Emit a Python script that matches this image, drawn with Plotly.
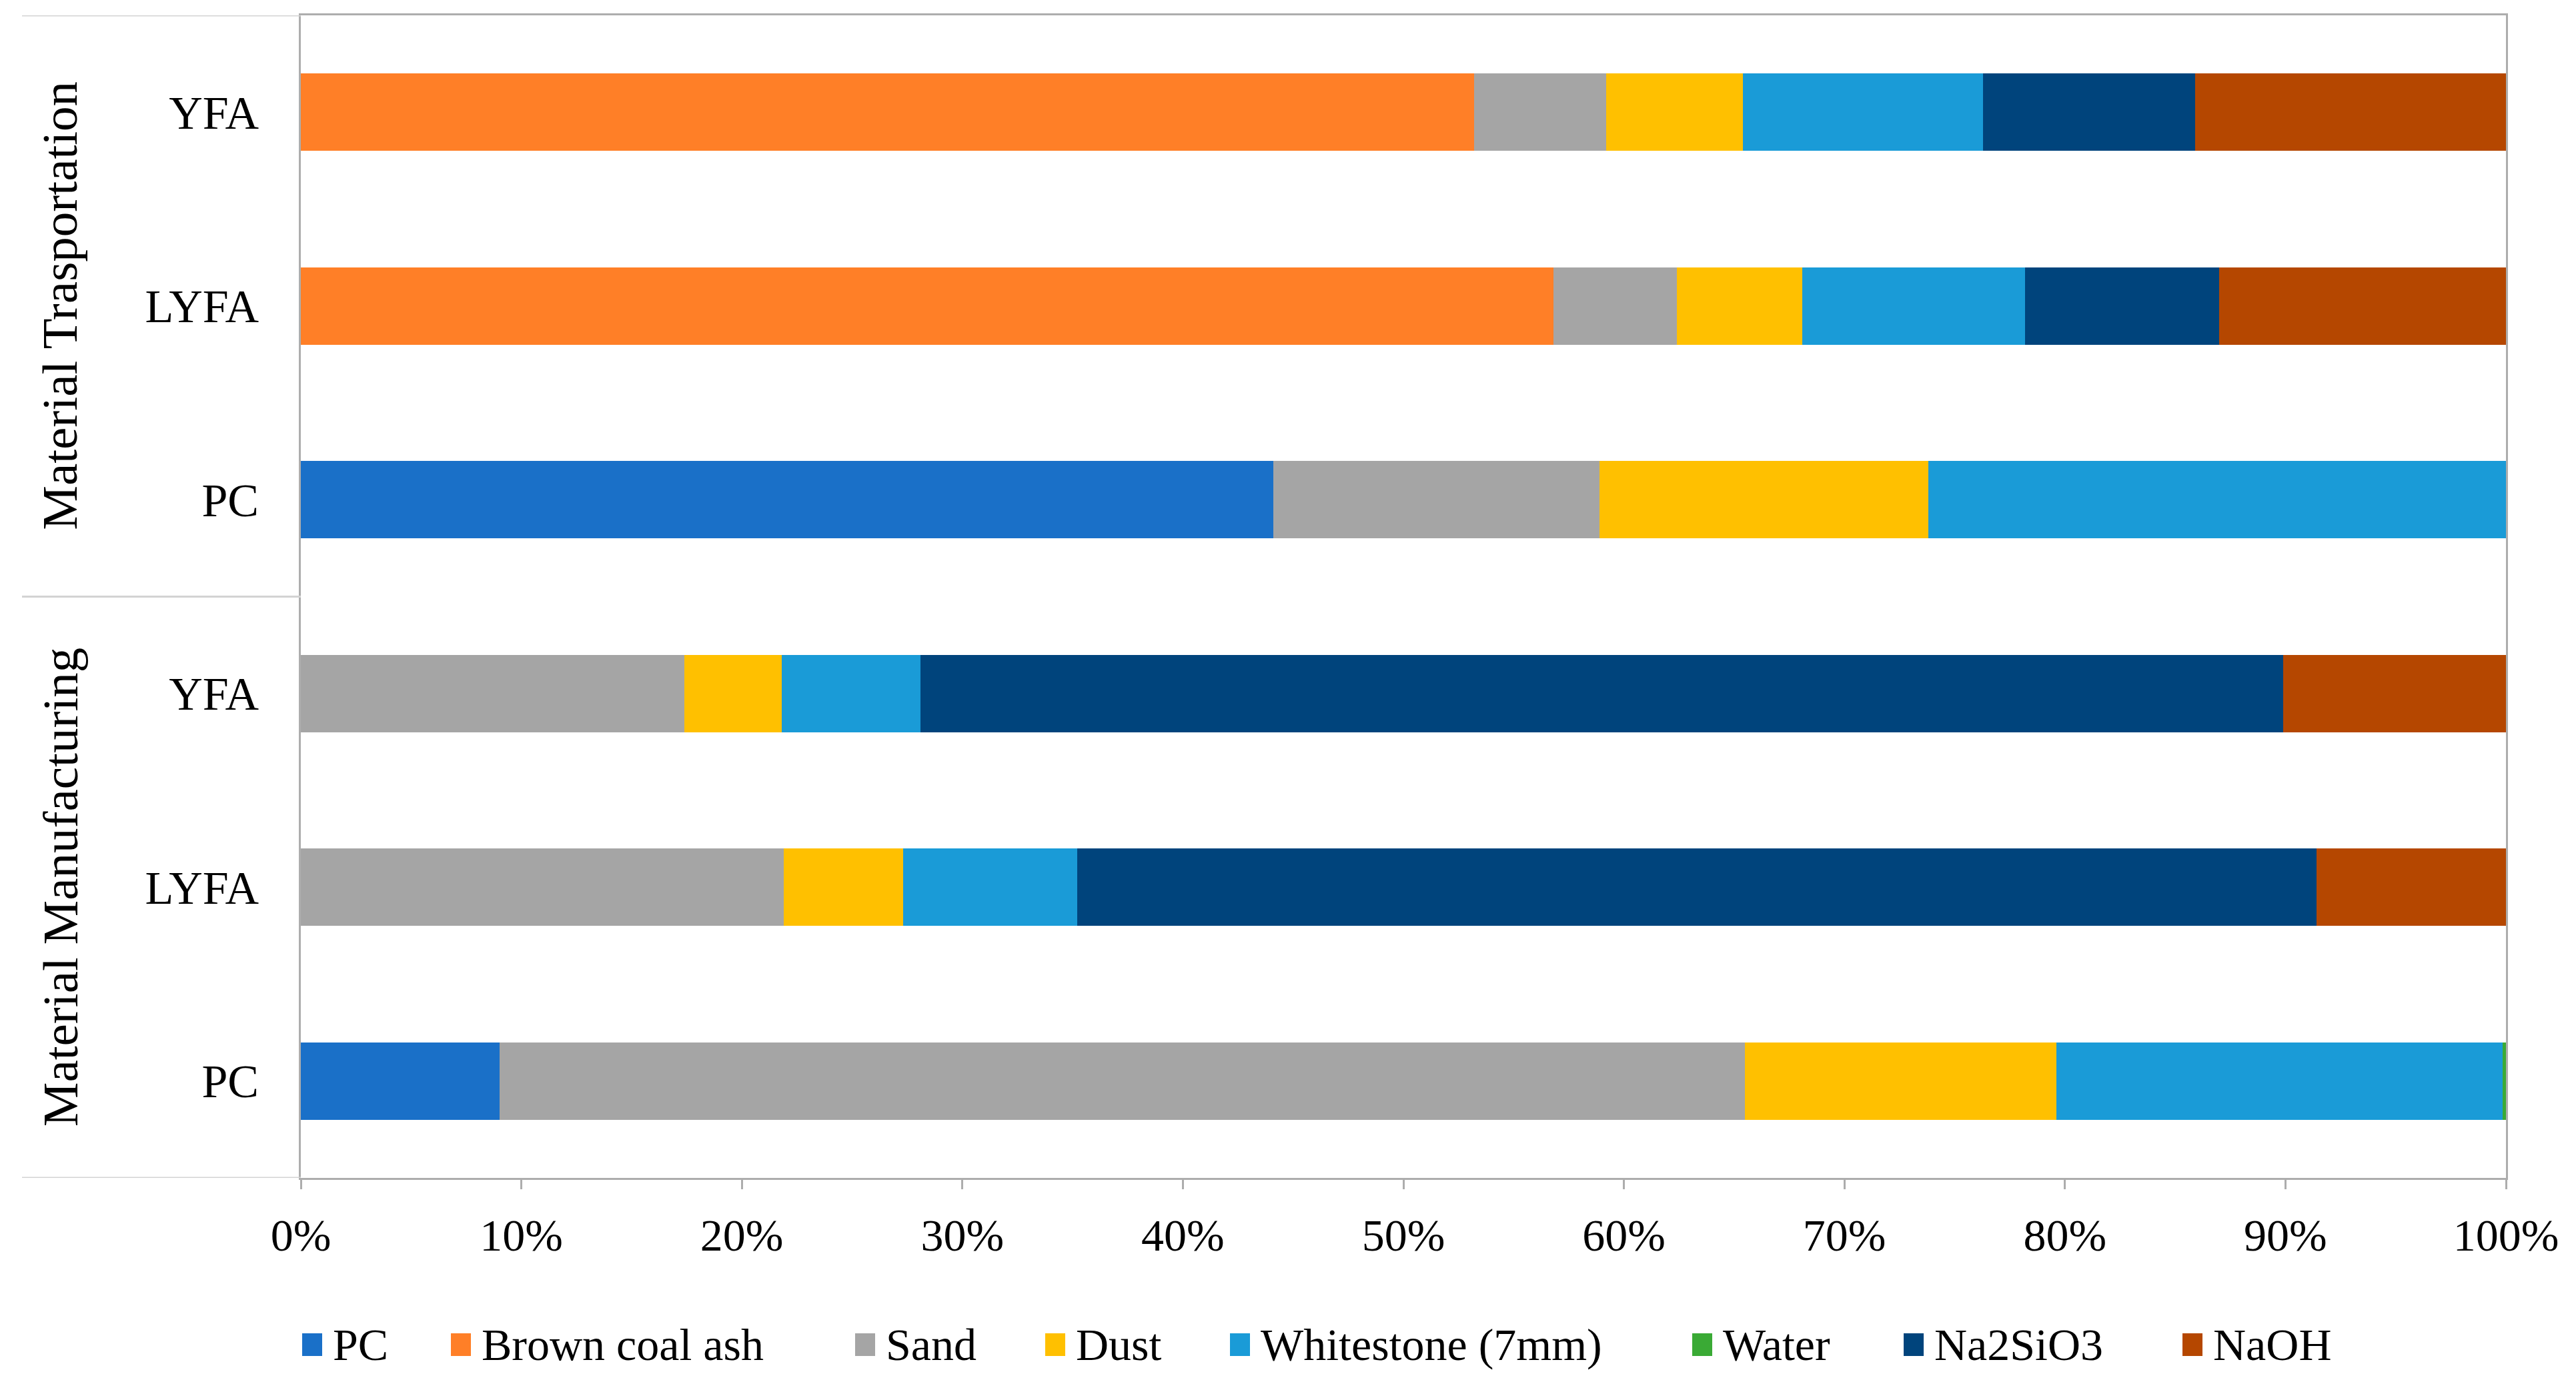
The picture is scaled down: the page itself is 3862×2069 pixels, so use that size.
import plotly.graph_objects as go

# ---------------- data ----------------
groups = ["Material Manufacturing"] * 3 + ["Material Trasportation"] * 3
labels = ["PC", "LYFA", "YFA", "PC", "LYFA", "YFA"]
row_ids = ["MM-PC", "MM-LYFA", "MM-YFA", "MT-PC", "MT-LYFA", "MT-YFA"]

series_names = ["PC", "Brown coal ash", "Sand", "Dust", "Whitestone (7mm)",
                "Water", "Na2SiO3", "NaOH"]

pc_vals        = [9.0, 0.0, 0.0, 44.1, 0.0, 0.0]
bca_vals       = [0.0, 0.0, 0.0, 0.0, 56.8, 53.2]
sand_vals      = [56.5, 21.9, 17.4, 14.8, 5.6, 6.0]
dust_vals      = [14.1, 5.4, 4.4, 14.9, 5.7, 6.2]
whitestone_vals = [20.25, 7.9, 6.3, 26.2, 10.1, 10.9]
water_vals     = [0.15, 0.0, 0.0, 0.0, 0.0, 0.0]
na2sio3_vals   = [0.0, 56.2, 61.8, 0.0, 8.8, 9.6]
naoh_vals      = [0.0, 8.7, 10.1, 0.0, 13.0, 14.1]

series_values = [pc_vals, bca_vals, sand_vals, dust_vals, whitestone_vals,
                 water_vals, na2sio3_vals, naoh_vals]

x_ticks = [0, 10, 20, 30, 40, 50, 60, 70, 80, 90, 100]

# ---------------- styles ----------------
colors = ["#1A70C8", "#FF7F27", "#A5A5A5", "#FFC000", "#1A9BD7",
          "#3AAA35", "#00447C", "#B54700"]
FONT = "Liberation Serif"
W, H = 3862, 2069
ML, MR, MT_, MB = 443, 113, 15, 311
PW = W - ML - MR
PH = H - MT_ - MB

fig = go.Figure()
for name, vals, col in zip(series_names, series_values, colors):
    fig.add_trace(go.Bar(
        y=row_ids, x=vals, name=name, orientation="h",
        marker=dict(color=col, line=dict(width=0)),
        showlegend=False,
    ))

fig.update_layout(
    barmode="stack",
    bargap=0.6,
    width=W, height=H,
    margin=dict(l=ML, r=MR, t=MT_, b=MB),
    paper_bgcolor="white",
    plot_bgcolor="white",
    font=dict(family=FONT, color="black", size=66),
)

fig.update_xaxes(
    range=[0, 100],
    tickvals=x_ticks,
    ticktext=[f"{v}%" for v in x_ticks],
    showgrid=False, zeroline=False,
    showline=True, linecolor="#ADADAD", linewidth=3, mirror=True,
    ticks="outside", ticklen=14, tickwidth=3, tickcolor="#ADADAD",
    ticklabelstandoff=10,
    tickfont=dict(family=FONT, size=68, color="black"),
)
fig.update_yaxes(
    type="category",
    categoryorder="array", categoryarray=row_ids,
    tickvals=row_ids, ticktext=labels,
    range=[-0.5, 5.5],
    showgrid=False, zeroline=False,
    showline=True, linecolor="#ADADAD", linewidth=3, mirror=True,
    ticks="", ticklabelstandoff=46,
    tickfont=dict(family=FONT, size=70, color="black"),
)

# group divider lines on the category axis
x_left = (25 - ML) / PW
for yb in [-0.5, 2.5, 5.5]:
    fig.add_shape(type="line", xref="paper", yref="y",
                  x0=x_left, x1=0, y0=yb, y1=yb,
                  line=dict(color="#D3D3D3", width=3))

# group labels
grp_names = []
for g in groups:
    if g not in grp_names:
        grp_names.append(g)
for g in grp_names:
    idx = [i for i, gg in enumerate(groups) if gg == g]
    yc = (idx[0] + idx[-1]) / 2
    fig.add_annotation(x=(82 - ML) / PW, y=yc, xref="paper", yref="y",
                       text=g, textangle=-90, showarrow=False,
                       font=dict(family=FONT, size=75, color="black"),
                       xanchor="center", yanchor="middle")

# manual legend (swatch + text)
legend_swatch_px = [445, 668, 1274, 1559, 1836, 2529, 2846, 3264]
legend_y_px = 2008
sw, sh = 30, 34
for name, col, sx in zip(series_names, colors, legend_swatch_px):
    x0 = (sx - ML) / PW
    x1 = (sx + sw - ML) / PW
    y0 = (H - MB - (legend_y_px + sh / 2)) / PH
    y1 = (H - MB - (legend_y_px - sh / 2)) / PH
    fig.add_shape(type="rect", xref="paper", yref="paper",
                  x0=x0, x1=x1, y0=y0, y1=y1,
                  fillcolor=col, line=dict(width=0))
    fig.add_annotation(x=(sx + sw + 14 - ML) / PW,
                       y=(H - MB - legend_y_px) / PH,
                       xref="paper", yref="paper", text=name,
                       showarrow=False, xanchor="left", yanchor="middle",
                       font=dict(family=FONT, size=68, color="black"))

fig.write_html("out.html")
